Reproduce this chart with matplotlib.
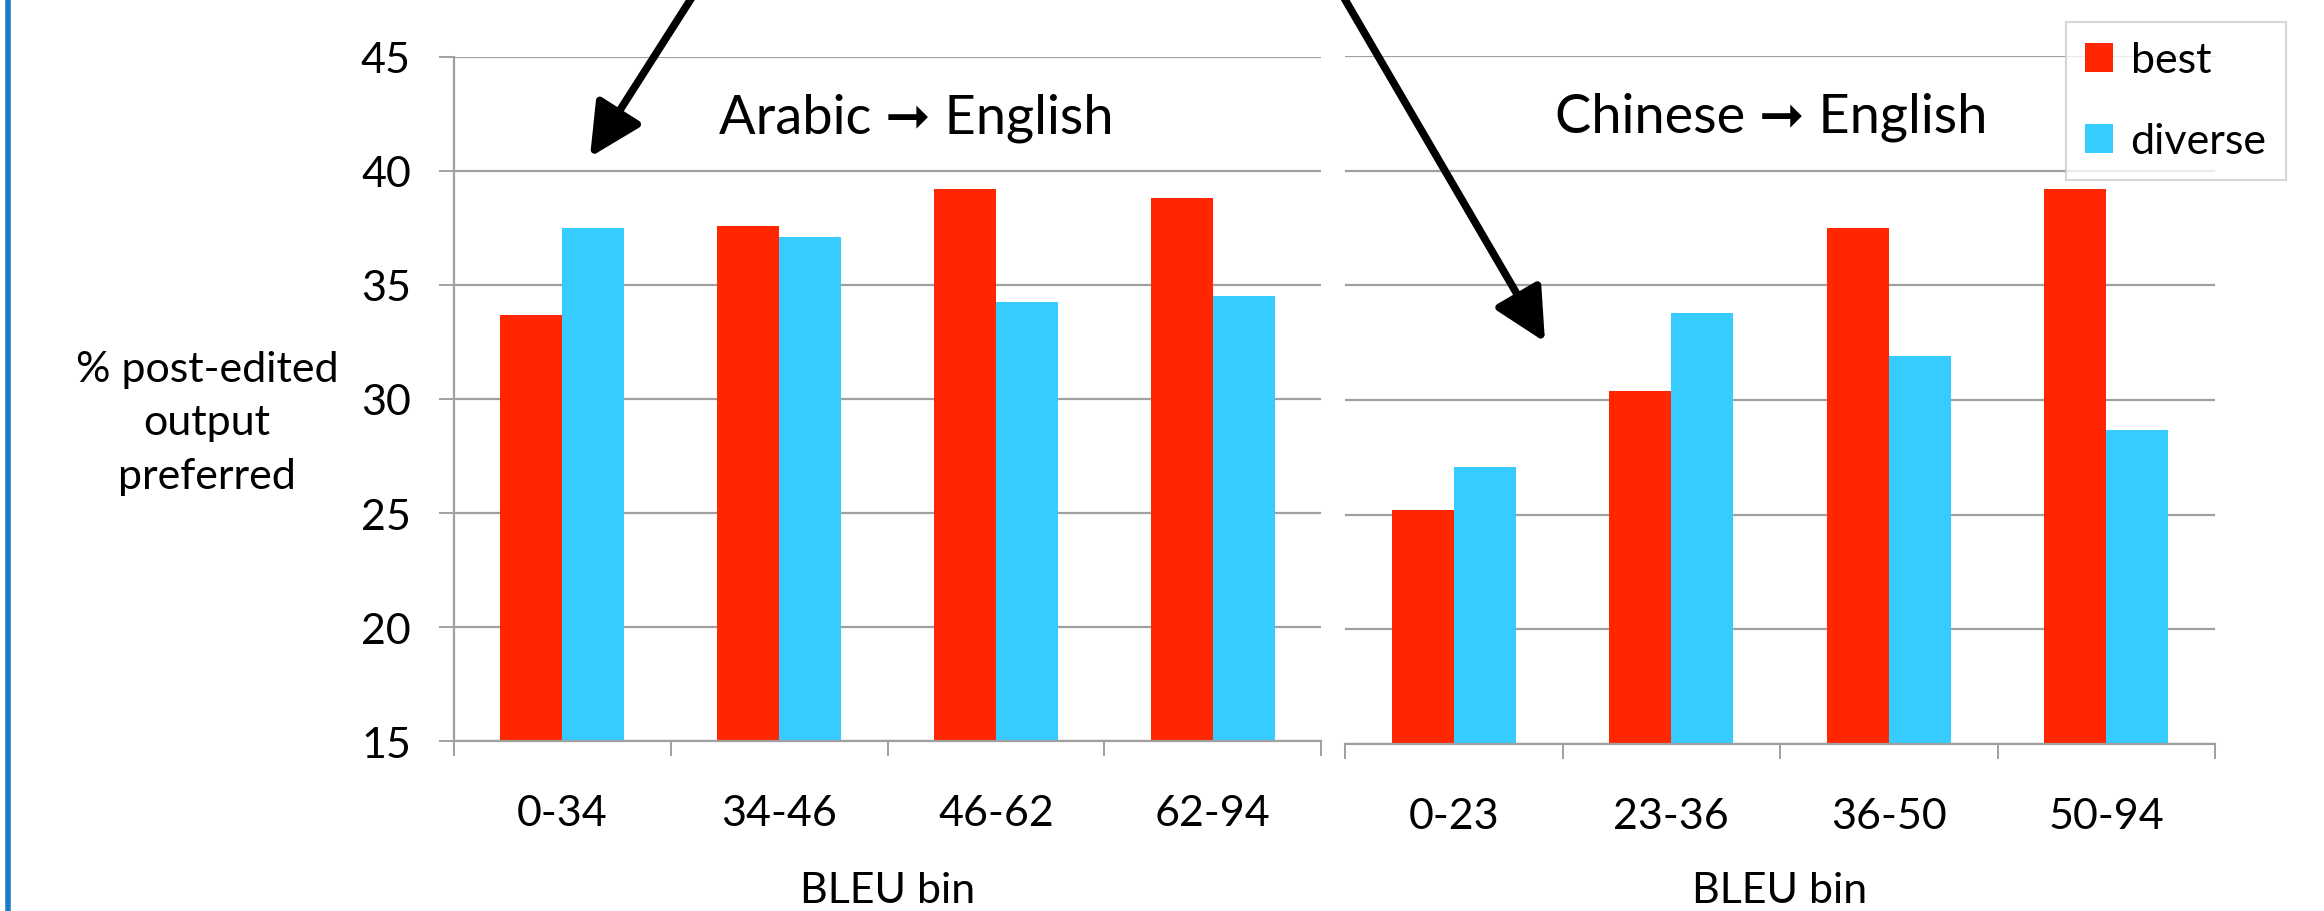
import matplotlib
matplotlib.use("Agg")
import numpy as np
import matplotlib.pyplot as plt
from matplotlib.patches import Patch, FancyArrowPatch
from matplotlib.lines import Line2D

# data
ar_bins = ["0-34", "34-46", "46-62", "62-94"]
ar_best = [33.7, 37.6, 39.2, 38.8]
ar_diverse = [37.5, 37.1, 34.25, 34.5]

zh_bins = ["0-23", "23-36", "36-50", "50-94"]
zh_best = [25.2, 30.4, 37.5, 39.2]
zh_diverse = [27.1, 33.8, 31.9, 28.7]

yticks = [15, 20, 25, 30, 35, 40, 45]

RED = "#ff2600"
BLUE = "#36ccff"
GRID = "#a0a0a0"
FONT = ["Lato", "DejaVu Sans"]

plt.rcParams["font.family"] = FONT

W, H = 2324, 912
fig = plt.figure(figsize=(W / 100, H / 100), dpi=100)

ax1 = fig.add_axes([454 / W, 1 - 742 / H, 867 / W, 684 / H])
ax2 = fig.add_axes([1345 / W, 1 - 745 / H, 870 / W, 688 / H])

bw = 0.286


def style_panel(ax, bins, best, diverse, title, tx, show_y, lpad):
    x = np.arange(len(bins))
    ax.bar(x - bw / 2, best, width=bw, color=RED, zorder=3, label="best")
    ax.bar(x + bw / 2, diverse, width=bw, color=BLUE, zorder=3, label="diverse")

    ax.set_ylim(15, 45)
    ax.set_xlim(-0.5, len(bins) - 0.5)
    ax.set_yticks(yticks)
    ax.yaxis.grid(True, color=GRID, lw=1.6)
    ax.set_axisbelow(True)

    for s in ["top", "right"]:
        ax.spines[s].set_visible(False)
    ax.spines["bottom"].set_color(GRID)
    ax.spines["bottom"].set_linewidth(1.6)
    ax.spines["bottom"].set_zorder(4)

    ax.set_xticks(x)
    ax.set_xticklabels(bins)
    ax.set_xticks(np.arange(-0.5, len(bins), 1.0), minor=True)
    ax.tick_params(axis="x", which="major", length=0, labelsize=31, pad=38)
    ax.tick_params(axis="x", which="minor", length=11, width=1.4, color=GRID)

    if show_y:
        ax.spines["left"].set_color(GRID)
        ax.spines["left"].set_linewidth(1.6)
        ax.tick_params(axis="y", length=11, width=1.4, color=GRID,
                       labelsize=31, pad=20)
    else:
        ax.spines["left"].set_visible(False)
        ax.tick_params(axis="y", length=0, labelleft=False)

    ax.set_xlabel("BLEU bin", fontsize=31, labelpad=lpad)
    ax.text(tx, 0.912, title, transform=ax.transAxes, fontsize=39,
            ha="center", va="center", family=FONT)


style_panel(ax1, ar_bins, ar_best, ar_diverse, "Arabic \u279e English", 0.533, True, 28)
style_panel(ax2, zh_bins, zh_best, zh_diverse, "Chinese \u279e English", 0.49, False, 26)

ax1.set_ylabel("% post-edited\noutput\npreferred", rotation=0, fontsize=31,
               ha="center", va="center", linespacing=1.5)
ax1.yaxis.set_label_coords(-0.285, 0.466)

handles = [Patch(facecolor=RED, label="best"), Patch(facecolor=BLUE, label="diverse")]
leg = fig.legend(handles=handles, loc="upper left",
                 bbox_to_anchor=(2066 / W, 1 - 23 / H), fontsize=31,
                 frameon=True, fancybox=False, handlelength=0.65, handleheight=0.65,
                 handletextpad=0.4, labelspacing=1.0, borderpad=0.45,
                 borderaxespad=0)
leg.get_frame().set_edgecolor("#cccccc")
leg.get_frame().set_linewidth(1.5)

# pointer arrows coming from above the chart
for start, tip in [((696, -8), (590, 158)), ((1340, -8), (1545, 343))]:
    arr = FancyArrowPatch((start[0] / W, 1 - start[1] / H), (tip[0] / W, 1 - tip[1] / H),
                          transform=fig.transFigure,
                          arrowstyle="-|>,head_length=0.8,head_width=0.4",
                          mutation_scale=40, lw=5.5, color="black",
                          shrinkA=0, shrinkB=0, zorder=10)
    fig.add_artist(arr)

# slide edge line on the left
fig.add_artist(Line2D([8 / W, 8 / W], [0, 1], transform=fig.transFigure,
                      color="#1a7bc4", lw=4))

fig.savefig("out.png", dpi=100)
